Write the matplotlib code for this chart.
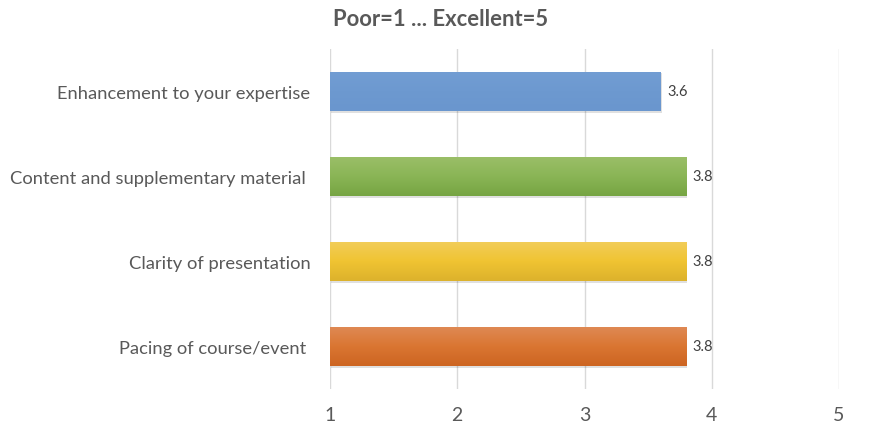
"""
horizontal bar chart of course ratings
"""
import matplotlib.pyplot as plt
import numpy as np
from matplotlib.colors import LinearSegmentedColormap

categories = ['Enhancement to your expertise', 'Content and supplementary material ',
              'Clarity of presentation', 'Pacing of course/event ']
scores = [3.6, 3.8, 3.8, 3.8]
score_labels = ['3.6', '3.8', '3.8', '3.8']
xticks = [1, 2, 3, 4, 5]
title = 'Poor=1 ... Excellent=5'

# top, middle, bottom colour of each bar's gradient
gradients = [
    ['#729DD3', '#6D99D0', '#6A96CE'],
    ['#9BBF68', '#8AB556', '#76A543'],
    ['#F2CD5A', '#F0C432', '#DCB22C'],
    ['#DF8A55', '#DA7632', '#CD6522'],
]

text_col = '#595959'
plt.rcParams['font.family'] = ['Lato', 'DejaVu Sans']

fig = plt.figure(figsize=(8.82, 4.31), dpi=100)
ax = fig.add_axes([330 / 882, 1 - 390 / 431, 509 / 882, 340 / 431])

ypos = np.arange(len(categories))
bars = ax.barh(ypos, np.array(scores) - 1, left=1, height=0.47, color='none', zorder=3)

for bar, grad in zip(bars, gradients):
    x0, y0 = bar.get_x(), bar.get_y()
    w, h = bar.get_width(), bar.get_height()
    # soft shadow under the bar
    ax.barh(y0 + h / 2 + 0.015, w, left=x0 + 0.006, height=h, color='#000000', alpha=0.12, zorder=2)
    cmap = LinearSegmentedColormap.from_list('g', grad)
    img = ax.imshow(np.linspace(0, 1, 64).reshape(-1, 1), cmap=cmap, aspect='auto',
                    extent=(x0, x0 + w, y0 + h, y0), origin='upper', zorder=3)
    img.set_clip_path(bar)

for y, s, lab in zip(ypos, scores, score_labels):
    ax.text(s + 0.05, y, lab, va='center', ha='left', fontsize=10.5, color='#404040', zorder=4)

ax.set_xlim(1, 5)
ax.set_ylim(len(categories) - 0.5, -0.5)
ax.set_xticks(xticks)
ax.set_xticklabels([str(t) for t in xticks], fontsize=14, color=text_col)
ax.set_yticks(ypos)
ax.set_yticklabels(categories, fontsize=13.2, color=text_col)
ax.tick_params(length=0, axis='y', pad=14)
ax.tick_params(length=0, axis='x', pad=12)
ax.grid(axis='x', color='#D9D9D9', linewidth=1, zorder=0)
for sp in ax.spines.values():
    sp.set_visible(False)

fig.text(441 / 882, 1 - 20 / 431, title, ha='center', va='center', fontsize=15.8,
         fontweight='bold', color=text_col)

plt.savefig('out.png', dpi=100)
